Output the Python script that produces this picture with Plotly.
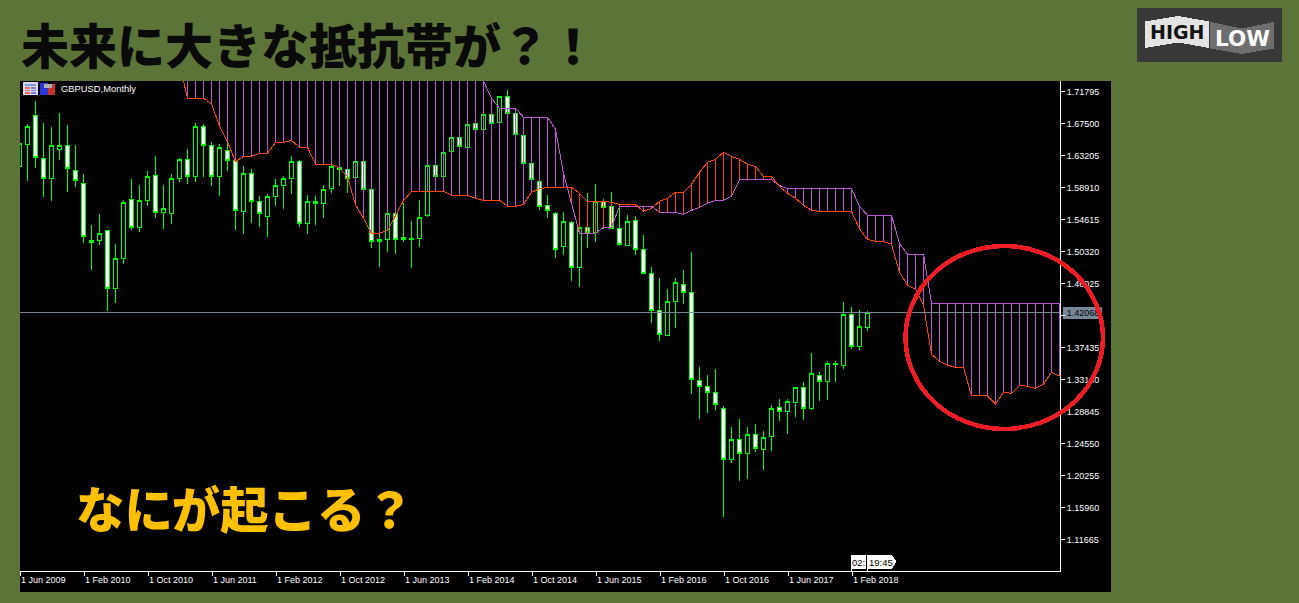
import plotly.graph_objects as go

# Monthly GBPUSD candles, first bar = 1 Jun 2009 (prices)
opens = [1.6179,1.6466,1.6864,1.6282,1.6009,1.6399,1.6457,1.6121,1.5947,1.5182,
1.5177,1.5316,1.4533,1.4936,1.5732,1.5352,1.5714,1.6054,1.5553,1.5540,
1.6009,1.6269,1.6036,1.6716,1.6457,1.6036,1.6390,1.6247,1.5567,1.6081,
1.5705,1.5499,1.5768,1.5916,1.6009,1.6242,1.5405,1.5705,1.5674,1.5875,
1.6162,1.6135,1.6023,1.6242,1.5866,1.5195,1.5191,1.5544,1.5222,1.5209,
1.5204,1.5513,1.6188,1.6036,1.6372,1.6564,1.6426,1.6752,1.6667,1.6873,
1.6761,1.7115,1.6886,1.6591,1.6215,1.5974,1.5652,1.5544,1.5101,1.5423,
1.4815,1.5356,1.5289,1.5705,1.5638,1.5343,1.5119,1.5450,1.5061,1.4739,
1.4242,1.3907,1.4359,1.4591,1.4484,1.3303,1.3222,1.3142,1.2927,1.2242,
1.2511,1.2323,1.2578,1.2377,1.2551,1.2940,1.2887,1.3007,1.3209,1.2927,
1.3370,1.3289,1.3531,1.3504,1.4189,1.3759,1.4014]
highs = [1.6506,1.6743,1.7052,1.6757,1.6703,1.6891,1.6730,1.6461,1.6072,1.5388,
1.5535,1.5316,1.5133,1.5723,1.6005,1.5924,1.6108,1.6314,1.5924,1.6072,
1.6282,1.6408,1.6757,1.6743,1.6502,1.6475,1.6484,1.6260,1.6179,1.6139,
1.5777,1.5804,1.6005,1.6045,1.6314,1.6260,1.5790,1.5777,1.5924,1.6206,
1.6166,1.6148,1.6242,1.6242,1.5866,1.5276,1.5544,1.5567,1.5678,1.5441,
1.5723,1.6188,1.6202,1.6363,1.6573,1.6573,1.6739,1.6761,1.6882,1.6882,
1.7115,1.7200,1.6895,1.6591,1.6215,1.5974,1.5786,1.5558,1.5558,1.5437,
1.5356,1.5813,1.5933,1.5732,1.5831,1.5625,1.5522,1.5508,1.5253,1.4824,
1.4676,1.4524,1.4672,1.4784,1.5025,1.3482,1.3374,1.3450,1.2958,1.2676,
1.2784,1.2676,1.2717,1.2623,1.2972,1.3052,1.3052,1.3209,1.3280,1.3665,
1.3415,1.3562,1.3562,1.4354,1.4287,1.4242,1.4229]
lows = [1.6148,1.5978,1.6153,1.5763,1.5710,1.6260,1.5831,1.5898,1.5146,1.4784,
1.5119,1.4233,1.4341,1.4864,1.5320,1.5294,1.5643,1.5482,1.5334,1.5401,
1.5965,1.5938,1.5965,1.6032,1.5911,1.5777,1.6112,1.5320,1.5267,1.5414,
1.5361,1.5227,1.5643,1.5602,1.5804,1.5361,1.5267,1.5388,1.5482,1.5817,
1.5911,1.5817,1.6023,1.5862,1.5079,1.4824,1.5025,1.4998,1.5159,1.4810,
1.5092,1.5495,1.6023,1.6036,1.6363,1.6430,1.6417,1.6663,1.6658,1.6739,
1.6752,1.6873,1.6596,1.6206,1.5987,1.5589,1.5482,1.4945,1.4985,1.4636,
1.4555,1.5079,1.5159,1.5329,1.5329,1.5106,1.5106,1.4985,1.4730,1.4068,
1.3835,1.3898,1.4001,1.4323,1.3119,1.2784,1.2864,1.2904,1.1468,1.2193,
1.1951,1.1978,1.2341,1.2099,1.2354,1.2757,1.2582,1.2811,1.2770,1.2909,
1.3025,1.3039,1.3280,1.3455,1.3719,1.3710,1.3965]
closes = [1.6475,1.6716,1.6291,1.6014,1.6457,1.6457,1.6144,1.5987,1.5231,1.5150,
1.5276,1.4533,1.4940,1.5692,1.5352,1.5719,1.6041,1.5553,1.5611,1.6014,
1.6269,1.6036,1.6716,1.6452,1.6036,1.6430,1.6251,1.5580,1.6081,1.5701,
1.5540,1.5772,1.5920,1.6014,1.6242,1.5405,1.5705,1.5674,1.5866,1.6175,
1.6130,1.6009,1.6242,1.5862,1.5164,1.5168,1.5544,1.5191,1.5195,1.5191,
1.5490,1.6188,1.6036,1.6363,1.6564,1.6443,1.6739,1.6672,1.6873,1.6752,
1.7115,1.6882,1.6605,1.6215,1.5996,1.5634,1.5584,1.5061,1.5437,1.4819,
1.5356,1.5285,1.5705,1.5620,1.5343,1.5128,1.5437,1.5061,1.4739,1.4242,
1.3916,1.4363,1.4618,1.4484,1.3316,1.3222,1.3142,1.2981,1.2242,1.2511,
1.2323,1.2578,1.2390,1.2538,1.2927,1.2887,1.3021,1.3209,1.2927,1.3397,
1.3289,1.3531,1.3517,1.4189,1.3759,1.4027,1.4215]

# Ichimoku cloud, first value at bar 20 (1 Feb 2011); runs 26 months past the last candle
cloud_start = 20
span_a = [1.7553,1.7088,1.7088,1.7088,1.7012,1.6716,1.6506,1.6238,1.6309,1.6309,
1.6349,1.6349,1.6497,1.6497,1.6524,1.6430,1.6430,1.6202,1.6202,1.6202,
1.6148,1.6036,1.5656,1.5477,1.5276,1.5276,1.5312,1.5513,1.5714,1.5839,
1.5839,1.5839,1.5839,1.5839,1.5786,1.5786,1.5786,1.5746,1.5719,1.5719,
1.5719,1.5638,1.5638,1.5665,1.5826,1.5875,1.5893,1.5893,1.5893,1.5893,
1.5813,1.5705,1.5705,1.5705,1.5692,1.5665,1.5665,1.5665,1.5571,1.5611,
1.5705,1.5746,1.5826,1.5826,1.5934,1.6095,1.6229,1.6269,1.6363,1.6310,
1.6269,1.6202,1.6175,1.6041,1.6041,1.5902,1.5813,1.5746,1.5652,1.5585,
1.5571,1.5571,1.5571,1.5571,1.5571,1.5334,1.5196,1.5169,1.5169,1.5128,
1.4753,1.4578,1.4524,1.4314,1.3652,1.3558,1.3505,1.3478,1.3478,1.3093,
1.3093,1.3093,1.2986,1.3142,1.3129,1.3236,1.3223,1.3196,1.3250,1.3411,1.3361]
span_b = [1.80,1.80,1.80,1.80,1.80,1.80,1.80,1.80,1.80,1.80,
1.80,1.80,1.80,1.80,1.80,1.80,1.80,1.80,1.80,1.80,
1.80,1.80,1.80,1.80,1.80,1.80,1.80,1.80,1.80,1.80,
1.80,1.80,1.80,1.80,1.80,1.80,1.80,1.76,1.7320,1.7088,
1.6953,1.6953,1.6953,1.6833,1.6833,1.6833,1.6833,1.6672,1.6081,1.5678,
1.5276,1.5276,1.5276,1.5356,1.5356,1.5638,1.5638,1.5638,1.5638,1.5638,
1.5558,1.5558,1.5558,1.5531,1.5584,1.5625,1.5679,1.5719,1.5719,1.5773,
1.5996,1.5996,1.5996,1.5996,1.5996,1.5916,1.5876,1.5876,1.5876,1.5876,
1.5876,1.5876,1.5876,1.5876,1.5876,1.5638,1.5518,1.5518,1.5518,1.5518,
1.5142,1.4994,1.4994,1.4994,1.4337,1.4337,1.4337,1.4337,1.4337,1.4337,
1.4337,1.4337,1.4337,1.4337,1.4337,1.4337,1.4337,1.4337,1.4337,1.4337,1.4337]

bid_price = 1.42068
price_ticks = [1.71795,1.67500,1.63205,1.58910,1.54615,1.50320,1.46025,1.41730,
               1.37435,1.33140,1.28845,1.24550,1.20255,1.15960,1.11665]
price_labels = ["1.71795","1.67500","1.63205","1.58910","1.54615","1.50320","1.46025","",
                "1.37435","1.33140","1.28845","1.24550","1.20255","1.15960","1.11665"]
time_labels = ["1 Jun 2009","1 Feb 2010","1 Oct 2010","1 Jun 2011","1 Feb 2012","1 Oct 2012",
               "1 Jun 2013","1 Feb 2014","1 Oct 2014","1 Jun 2015","1 Feb 2016","1 Oct 2016",
               "1 Jun 2017","1 Feb 2018"]
time_label_step = 8

GREEN_BG = "#5d7439"
CANDLE = "#00ff00"
ORANGE = "#ff4500"
PURPLE = "#ba55d3"
BID = "#778899"
RED = "#ee1c25"

W, H = 1299, 603
L, R, T, B = 20, 1060, 81, 571
PW, PH = R - L, B - T
X_OFFSET = 0.0625           # half a pixel, so that bars fall on pixel columns
x_range = [X_OFFSET, X_OFFSET + PW / 8]
y_range = [1.07436, 1.73204]

def px(x):
    return (x - L) / PW

def py(y):
    return (B - y) / PH

def poly(points):
    return "M" + " L".join(f"{px(a):.5f},{py(b):.5f}" for a, b in points) + " Z"

def box_shape(x0, y0, x1, y1, color, layer="above"):
    return dict(type="rect", xref="paper", yref="paper", x0=px(x0), x1=px(x1), y0=py(y1), y1=py(y0),
                fillcolor=color, line_width=0, layer=layer)

def poly_shape(points, color, layer="above"):
    return dict(type="path", xref="paper", yref="paper", path=poly(points),
                fillcolor=color, line_width=0, layer=layer)

def label(x, y, text, size, color, family="Liberation Sans", xanchor="left", weight=None):
    font = dict(family=family, size=size, color=color)
    if weight:
        font["weight"] = weight
    return dict(xref="paper", yref="paper", x=px(x), y=py(y), text=text, showarrow=False,
                xanchor=xanchor, yanchor="middle", font=font, borderpad=0, borderwidth=0)

bars = list(range(len(opens)))
cloud_x = [cloud_start + k for k in range(len(span_a))]

def hatch(keep):
    xs, ys = [], []
    for i, a, b in zip(cloud_x, span_a, span_b):
        if keep(a, b):
            xs += [i, i, None]
            ys += [a, b, None]
    return xs, ys

fig = go.Figure()
fig.add_trace(go.Candlestick(
    x=bars, open=opens, high=highs, low=lows, close=closes, whiskerwidth=0,
    increasing=dict(line=dict(color=CANDLE, width=1), fillcolor="#000000"),
    decreasing=dict(line=dict(color=CANDLE, width=1), fillcolor="#ffffff"),
    showlegend=False, hoverinfo="skip"))
hx, hy = hatch(lambda a, b: b >= a)
fig.add_trace(go.Scatter(x=hx, y=hy, mode="lines", line=dict(color=PURPLE, width=1), hoverinfo="skip", showlegend=False))
hx, hy = hatch(lambda a, b: a > b)
fig.add_trace(go.Scatter(x=hx, y=hy, mode="lines", line=dict(color=ORANGE, width=1), hoverinfo="skip", showlegend=False))
fig.add_trace(go.Scatter(x=cloud_x, y=span_b, mode="lines", line=dict(color=PURPLE, width=1), hoverinfo="skip", showlegend=False))
fig.add_trace(go.Scatter(x=cloud_x, y=span_a, mode="lines", line=dict(color=ORANGE, width=1), hoverinfo="skip", showlegend=False))
fig.add_trace(go.Scatter(x=x_range, y=[bid_price, bid_price], yaxis="y2", mode="lines",
                         line=dict(color=BID, width=1), hoverinfo="skip", showlegend=False))

shapes = [
    # panel behind the chart
    box_shape(20, 81, 1111, 592, "#000000", layer="below"),
    # bid price tag, under its own tick label
    box_shape(1063, 307, 1102, 319, BID, layer="below"),
    # window icons
    box_shape(23, 82, 37.5, 94.5, "#d8d8e8"),
    box_shape(24.5, 83.5, 36, 86, "#7f9de0"),
    box_shape(25, 87, 30, 88.5, "#e06a60"),
    box_shape(31, 87, 36, 88.5, "#7f7fd8"),
    box_shape(25, 89.5, 30, 91, "#e06a60"),
    box_shape(31, 89.5, 36, 91, "#7f7fd8"),
    box_shape(25, 92, 30, 93.5, "#e06a60"),
    box_shape(31, 92, 36, 93.5, "#7f7fd8"),
    box_shape(40, 83, 48, 94.5, "#2a36d8"),
    box_shape(48, 84, 55, 94.5, "#c8342c"),
    box_shape(44, 83.5, 52, 87.5, "#b0b0b0"),
    # server time tag
    box_shape(851, 555, 866, 568.5, "#ffffff"),
    poly_shape([(867, 555), (892, 555), (896.5, 561.5), (892, 568.5), (867, 568.5)], "#ffffff"),
    box_shape(851, 568, 852, 571, "#ffffff"),
    box_shape(867, 568, 868, 571, "#ffffff"),
    # HIGH LOW badge
    box_shape(1137, 8, 1282, 62, "#383838"),
    poly_shape([(1145, 21.5), (1178.5, 16), (1209, 21.5), (1209, 48), (1178.5, 42.5), (1145, 48)], "#e4e4e4"),
    poly_shape([(1210.5, 22), (1242, 28.5), (1274, 22), (1274, 48.5), (1242, 54), (1210.5, 48.5)], "#6e6e6e"),
    # red circle
    dict(type="circle", xref="paper", yref="paper", x0=px(905.5), x1=px(1103), y0=py(429), y1=py(246),
         line=dict(color=RED, width=4.5), fillcolor="rgba(0,0,0,0)", layer="above"),
]

annotations = [
    label(21, 43, "未来に大きな抵抗帯が？！", 48, "#0a0a0a", "Noto Sans CJK JP", weight=900),
    label(76, 507, "なにが起こる？", 48.4, "#ffc000", "Noto Sans CJK JP", weight=900),
    label(61, 88.5, "GBPUSD,Monthly", 9.4, "#ffffff"),
    label(852, 562, "02:", 9.5, "#000000"),
    label(869, 562, "19:45", 9.5, "#000000"),
    label(1177, 32, "HIGH", 19, "#141414", "DejaVu Sans", "center", 700),
    label(1242, 38, "LOW", 21.5, "#ffffff", "DejaVu Sans", "center", 700),
]

tick_font = dict(family="Liberation Sans", size=9, color="#ffffff")
fig.update_layout(
    width=W, height=H, autosize=False,
    margin=dict(l=L, r=W - R, t=T, b=H - B, pad=0),
    paper_bgcolor=GREEN_BG, plot_bgcolor="#000000",
    showlegend=False, hovermode=False, dragmode=False, boxgap=0.2857,
    shapes=shapes, annotations=annotations,
    xaxis=dict(range=x_range, showgrid=False, zeroline=False, fixedrange=True,
               rangeslider=dict(visible=False),
               tickmode="array",
               tickvals=[k * time_label_step + X_OFFSET for k in range(len(time_labels))],
               ticktext=time_labels, tickfont=tick_font,
               ticks="outside", ticklen=4, tickcolor="#ffffff", tickwidth=1,
               ticklabelposition="outside right", ticklabelstandoff=0,
               showline=True, linecolor="#ffffff", linewidth=1),
    yaxis=dict(range=y_range, side="right", showgrid=False, zeroline=False, fixedrange=True,
               tickmode="array", tickvals=price_ticks, ticktext=price_labels, tickfont=tick_font,
               ticks="outside", ticklen=4, tickcolor="#ffffff", tickwidth=1,
               showline=True, linecolor="#ffffff", linewidth=1),
    yaxis2=dict(range=y_range, side="right", overlaying="y", showgrid=False, zeroline=False, fixedrange=True,
                tickmode="array", tickvals=[bid_price], ticktext=[f"{bid_price:.5f}"],
                tickfont=dict(family="Liberation Sans", size=9, color="#000000"),
                ticks="outside", ticklen=4, tickcolor="rgba(0,0,0,0)", showline=False),
)

page_style = ("var s=document.createElement('style');"
              "s.textContent='svg path{shape-rendering:crispEdges !important}';"
              "document.head.appendChild(s);"
              "document.body.style.margin='0';document.documentElement.style.overflow='hidden';")
fig.write_html("out.html", config=dict(displayModeBar=False, staticPlot=True), post_script=page_style)
